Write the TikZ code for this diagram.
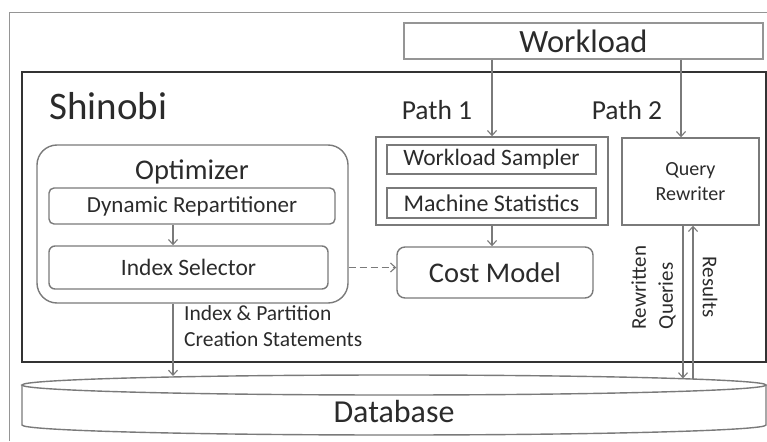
\documentclass[tikz,border=0pt]{standalone}
\usepackage{fontspec}
\setmainfont{Carlito}
\usetikzlibrary{arrows.meta}
\definecolor{ink}{HTML}{2B2B2B}
\definecolor{edge}{HTML}{7A7A7A}
\definecolor{frame}{HTML}{333333}
\newcommand{\fs}[1]{\fontsize{#1}{#1}\selectfont}
\tikzset{
  box/.style={draw=edge, line width=1.4pt, text=ink, inner sep=0pt},
  rbox/.style={box, rounded corners=#1},
  lbl/.style={text=ink, inner sep=0pt},
  arr/.style={draw=edge, line width=1.3pt, -{Straight Barb[length=5pt,width=9pt,line width=1.1pt]}},
}
\begin{document}
\begin{tikzpicture}[x=1pt,y=-1pt]
\useasboundingbox (0,0) rectangle (767,441);
% outer border
\draw[edge!80, line width=1pt] (9.5,441) -- (9.5,13) -- (767,13);

% workload source
\node[box, draw=edge!80, minimum width=359pt, minimum height=36pt] (wl) at (583.5,41) {\fs{32.5}Workload};

% Shinobi frame
\node[draw=frame, line width=2pt, minimum width=744pt, minimum height=290pt, inner sep=0pt] (sh) at (394,217) {};
\node[lbl] (shl) at (108.5,106) {\fs{39}Shinobi};

% optimizer
\node[rbox=20pt, minimum width=311pt, minimum height=158pt] (opt) at (192.5,224) {};
\node[lbl] (optl) at (192,172) {\fs{28.5}Optimizer};
\node[rbox=5pt, minimum width=286pt, minimum height=36pt] (dr) at (192,206) {\fs{23}Dynamic Repartitioner};
\node[rbox=6pt, minimum width=279pt, minimum height=43pt] (is) at (188.5,267.5) {\fs{23.5}Index Selector};

% path 1
\node[lbl] (p1l) at (437,110) {\fs{27.5}Path 1};
\node[box, minimum width=232pt, minimum height=88pt] (p1) at (492,181) {};
\node[box, minimum width=209pt, minimum height=29pt] (ws) at (491.5,159.5) {\fs{23.5}Workload Sampler};
\node[box, minimum width=209pt, minimum height=30pt] (ms) at (491.5,203) {\fs{24}Machine Statistics};
\node[rbox=8pt, minimum width=196pt, minimum height=51pt] (cm) at (495,272.5) {\fs{28.5}Cost Model};

% path 2
\node[lbl] (p2l) at (627,110) {\fs{27.5}Path 2};
\node[box, minimum width=137pt, minimum height=87pt, align=center, font=\fontsize{20}{25}\selectfont] (qr) at (690.5,181.5) {Query\\Rewriter};

% database cylinder
\draw[edge, line width=1.4pt, fill=white] (22,385) -- (22,425) arc[start angle=180, end angle=360, x radius=372, y radius=-10] -- (766,385);
\draw[edge, line width=1.4pt] (394,385) ellipse[x radius=372, y radius=10];
\node[lbl] (db) at (394,412) {\fs{32}Database};
\coordinate (dbA) at (173,376);
\coordinate (dbB) at (683,378.5);
\coordinate (dbC) at (693,379);

% connectors
\coordinate (optx) at (173,0);
\draw[arr] (optx |- dr.south) -- (optx |- is.north);
\draw[arr] (optx |- opt.south) -- (dbA);
\draw[arr, dash pattern=on 7pt off 4pt] (opt.east |- is.east) -- (cm.west |- is.east);
\draw[arr] (p1.north |- wl.south) -- (p1.north);
\draw[arr] (p1.south) -- (p1.south |- cm.north);
\draw[arr] ([xshift=-9.5pt]qr.north |- wl.south) -- ([xshift=-9.5pt]qr.north);
\draw[arr] (dbB |- qr.south) -- (dbB);
\draw[arr] (dbC) -- (dbC |- qr.south);

% connector labels
\node[lbl, anchor=north west, align=left, font=\fontsize{21.5}{26}\selectfont] (ipl) at (184,305) {Index \& Partition\\Creation Statements};
\node[lbl, rotate=90, align=left, font=\fontsize{21}{27}\selectfont] (rql) at (653.5,287.5) {Rewritten\\Queries};
\node[lbl, rotate=-90, font=\fs{21}] (rsl) at (710,287) {Results};
\end{tikzpicture}
\end{document}
